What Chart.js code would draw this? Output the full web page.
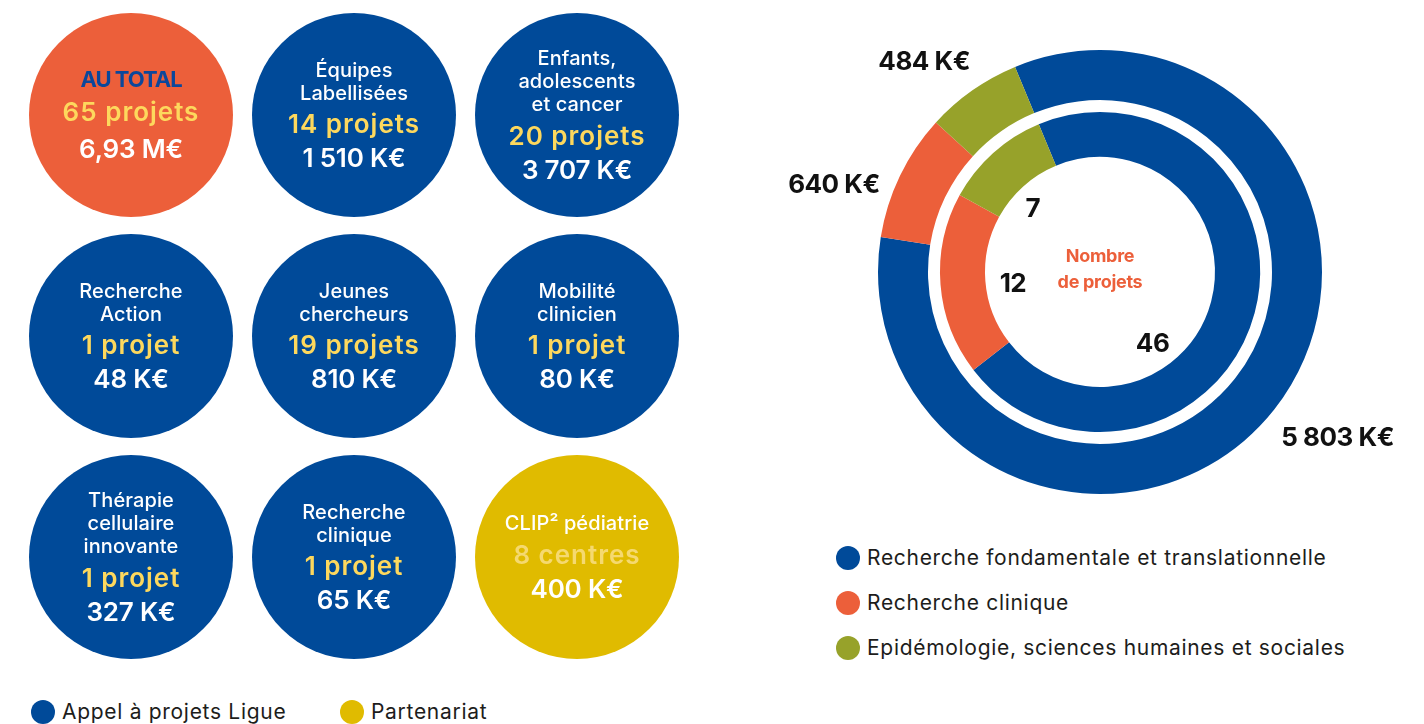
<!DOCTYPE html>
<html lang="fr">
<head>
<meta charset="utf-8">
<title>Projets financés</title>
<script src="https://cdn.jsdelivr.net/npm/chart.js@4/dist/chart.umd.min.js"></script>
<style>
  body { margin: 0; width: 1424px; height: 724px; background: #fff; position: relative; overflow: hidden; font-family: Inter, 'Noto Sans', sans-serif; }
  #left { position: absolute; left: 0; top: 0; width: 720px; height: 680px; }
  #right { position: absolute; left: 740px; top: 0; width: 684px; height: 540px; }
  .leg { position: absolute; display: flex; align-items: center; font-size: 21px; letter-spacing: 0.7px; color: #1d1d1b; white-space: nowrap; }
  .leg i { display: inline-block; width: 24px; height: 24px; border-radius: 50%; margin-right: 7px; }
</style>
</head>
<body>
<div id="left"><canvas id="bubbleChart"></canvas></div>
<div id="right"><canvas id="donutChart"></canvas></div>
<div id="legends"></div>
<script>
// Left grid: programmes
const bubbleLabels = [
    ['AU TOTAL'], ['Équipes', 'Labellisées'], ['Enfants,', 'adolescents', 'et cancer'],
    ['Recherche', 'Action'], ['Jeunes', 'chercheurs'], ['Mobilité', 'clinicien'],
    ['Thérapie', 'cellulaire', 'innovante'], ['Recherche', 'clinique'], ['CLIP² pédiatrie']
];
const bubbleCounts = ['65 projets', '14 projets', '20 projets', '1 projet', '19 projets', '1 projet', '1 projet', '1 projet', '8 centres'];
const bubbleAmounts = ['6,93 M€', '1 510 K€', '3 707 K€', '48 K€', '810 K€', '80 K€', '327 K€', '65 K€', '400 K€'];
const bubbleCol = [0, 1, 2, 0, 1, 2, 0, 1, 2];
const bubbleRow = [0, 0, 0, 1, 1, 1, 2, 2, 2];
const bubbleKind = ['total', 'ligue', 'ligue', 'ligue', 'ligue', 'ligue', 'ligue', 'ligue', 'partenariat'];
const fundingLegend = ['Appel à projets Ligue', 'Partenariat'];

// Right doughnut: domains
const domains = ['Recherche fondamentale et translationnelle', 'Recherche clinique', 'Epidémologie, sciences humaines et sociales'];
const budgetK = [5803, 640, 484];
const budgetLabels = ['5 803 K€', '640 K€', '484 K€'];
const projectCounts = [46, 12, 7];

const BLUE = '#004A99', ORANGE = '#EC5F3A', GREEN = '#97A22A', GOLD = '#E0BB00';
const kindColor = { total: ORANGE, ligue: BLUE, partenariat: GOLD };
const FONT = 'Inter, "Noto Sans", sans-serif';

// label placement around the rings (degrees clockwise from top, distance / outer radius)
const outerLabelAngle = [125, -72, -40];
const outerLabelDist = [1.307, 1.26, 1.232];
const innerLabelAngle = [144, -98, -47];
const innerLabelDist = [0.403, 0.396, 0.414];

// Draw texts inside the bubbles
const bubbleText = {
    id: 'bubbleText',
    afterDatasetsDraw(chart) {
        const ctx = chart.ctx;
        const meta = chart.getDatasetMeta(0);
        meta.data.forEach((pt, i) => {
            const lines = bubbleLabels[i];
            const total = bubbleKind[i] === 'total';
            const g1 = total ? 33 : 32, g2 = total ? 37 : 34;
            const span = (lines.length - 1) * 23 + g1 + g2;
            let y = pt.y - span / 2;
            ctx.save();
            ctx.textAlign = 'center';
            ctx.textBaseline = 'middle';
            lines.forEach((t, k) => {
                if (total) {
                    ctx.font = '700 22px ' + FONT;
                    ctx.fillStyle = '#0B479B';
                    ctx.letterSpacing = '-1px';
                } else {
                    ctx.font = '500 20px ' + FONT;
                    ctx.fillStyle = '#fff';
                    ctx.letterSpacing = '0.1px';
                }
                ctx.fillText(t, pt.x, y + k * 23);
            });
            y += (lines.length - 1) * 23 + g1;
            ctx.font = '600 26px ' + FONT;
            ctx.letterSpacing = '1px';
            ctx.fillStyle = bubbleKind[i] === 'partenariat' ? '#F5D970' : '#FDD85D';
            ctx.fillText(bubbleCounts[i], pt.x, y);
            y += g2;
            ctx.font = '600 26px ' + FONT;
            ctx.letterSpacing = '-0.2px';
            ctx.fillStyle = '#fff';
            ctx.fillText(bubbleAmounts[i], pt.x, y);
            ctx.restore();
        });
    }
};

new Chart(document.getElementById('bubbleChart'), {
    type: 'bubble',
    data: {
        datasets: [{
            data: bubbleCol.map((c, i) => ({ x: c, y: bubbleRow[i], r: 102 })),
            backgroundColor: bubbleKind.map(k => kindColor[k]),
            borderWidth: 0,
            hoverRadius: 0,
            clip: false
        }]
    },
    options: {
        responsive: true,
        maintainAspectRatio: false,
        animation: false,
        events: [],
        layout: { autoPadding: false, padding: { left: 19.5, right: 31.5, top: 4.5, bottom: 12.5 } },
        plugins: { legend: { display: false }, tooltip: { enabled: false } },
        scales: {
            x: { type: 'linear', min: -0.5, max: 2.5, display: false },
            y: { type: 'linear', min: -0.5, max: 2.5, reverse: true, display: false }
        }
    },
    plugins: [bubbleText]
});

// Draw values around / inside the doughnut
const donutText = {
    id: 'donutText',
    afterDatasetsDraw(chart) {
        const ctx = chart.ctx;
        const outer = chart.getDatasetMeta(0).data;
        const inner = chart.getDatasetMeta(2).data;
        const cx = outer[0].x, cy = outer[0].y, R = outer[0].outerRadius;
        const at = (deg, d) => {
            const a = deg * Math.PI / 180;
            return [cx + Math.sin(a) * d * R, cy - Math.cos(a) * d * R];
        };
        ctx.save();
        ctx.textAlign = 'center';
        ctx.textBaseline = 'middle';
        ctx.fillStyle = '#111';
        ctx.font = '700 26px ' + FONT;
        ctx.letterSpacing = '-0.5px';
        outer.forEach((arc, i) => {
            const [x, y] = at(outerLabelAngle[i], outerLabelDist[i]);
            ctx.fillText(budgetLabels[i], x, y);
        });
        inner.forEach((arc, i) => {
            const [x, y] = at(innerLabelAngle[i], innerLabelDist[i]);
            ctx.fillText(String(projectCounts[i]), x, y);
        });
        ctx.fillStyle = ORANGE;
        ctx.font = '700 18px ' + FONT;
        ctx.letterSpacing = '-0.3px';
        ctx.fillText('Nombre', cx, cy - 15);
        ctx.fillText('de projets', cx, cy + 11);
        ctx.restore();
    }
};

const ringColors = [BLUE, ORANGE, GREEN];
new Chart(document.getElementById('donutChart'), {
    type: 'doughnut',
    data: {
        labels: domains,
        datasets: [
            { data: budgetK, backgroundColor: ringColors, weight: 50 },
            { data: [1], backgroundColor: 'rgba(0,0,0,0)', weight: 12 },
            { data: projectCounts, backgroundColor: ringColors, weight: 45 }
        ]
    },
    options: {
        responsive: true,
        maintainAspectRatio: false,
        animation: false,
        events: [],
        rotation: -22.5,
        cutout: '51.8%',
        borderWidth: 0,
        offset: 0,
        hoverOffset: 0,
        spacing: 0,
        layout: { padding: { left: 138, right: 102, top: 50, bottom: 46 } },
        plugins: { legend: { display: false }, tooltip: { enabled: false } }
    },
    plugins: [donutText]
});

// HTML legends
const legends = document.getElementById('legends');
function addLegend(text, color, left, top) {
    const d = document.createElement('div');
    d.className = 'leg';
    d.style.left = left + 'px';
    d.style.top = top + 'px';
    d.innerHTML = '<i style="background:' + color + '"></i>' + text;
    legends.appendChild(d);
}
domains.forEach((t, i) => addLegend(t, ringColors[i], 836, 545 + i * 45));
addLegend(fundingLegend[0], BLUE, 31, 699);
addLegend(fundingLegend[1], GOLD, 340, 699);
</script>
</body>
</html>
